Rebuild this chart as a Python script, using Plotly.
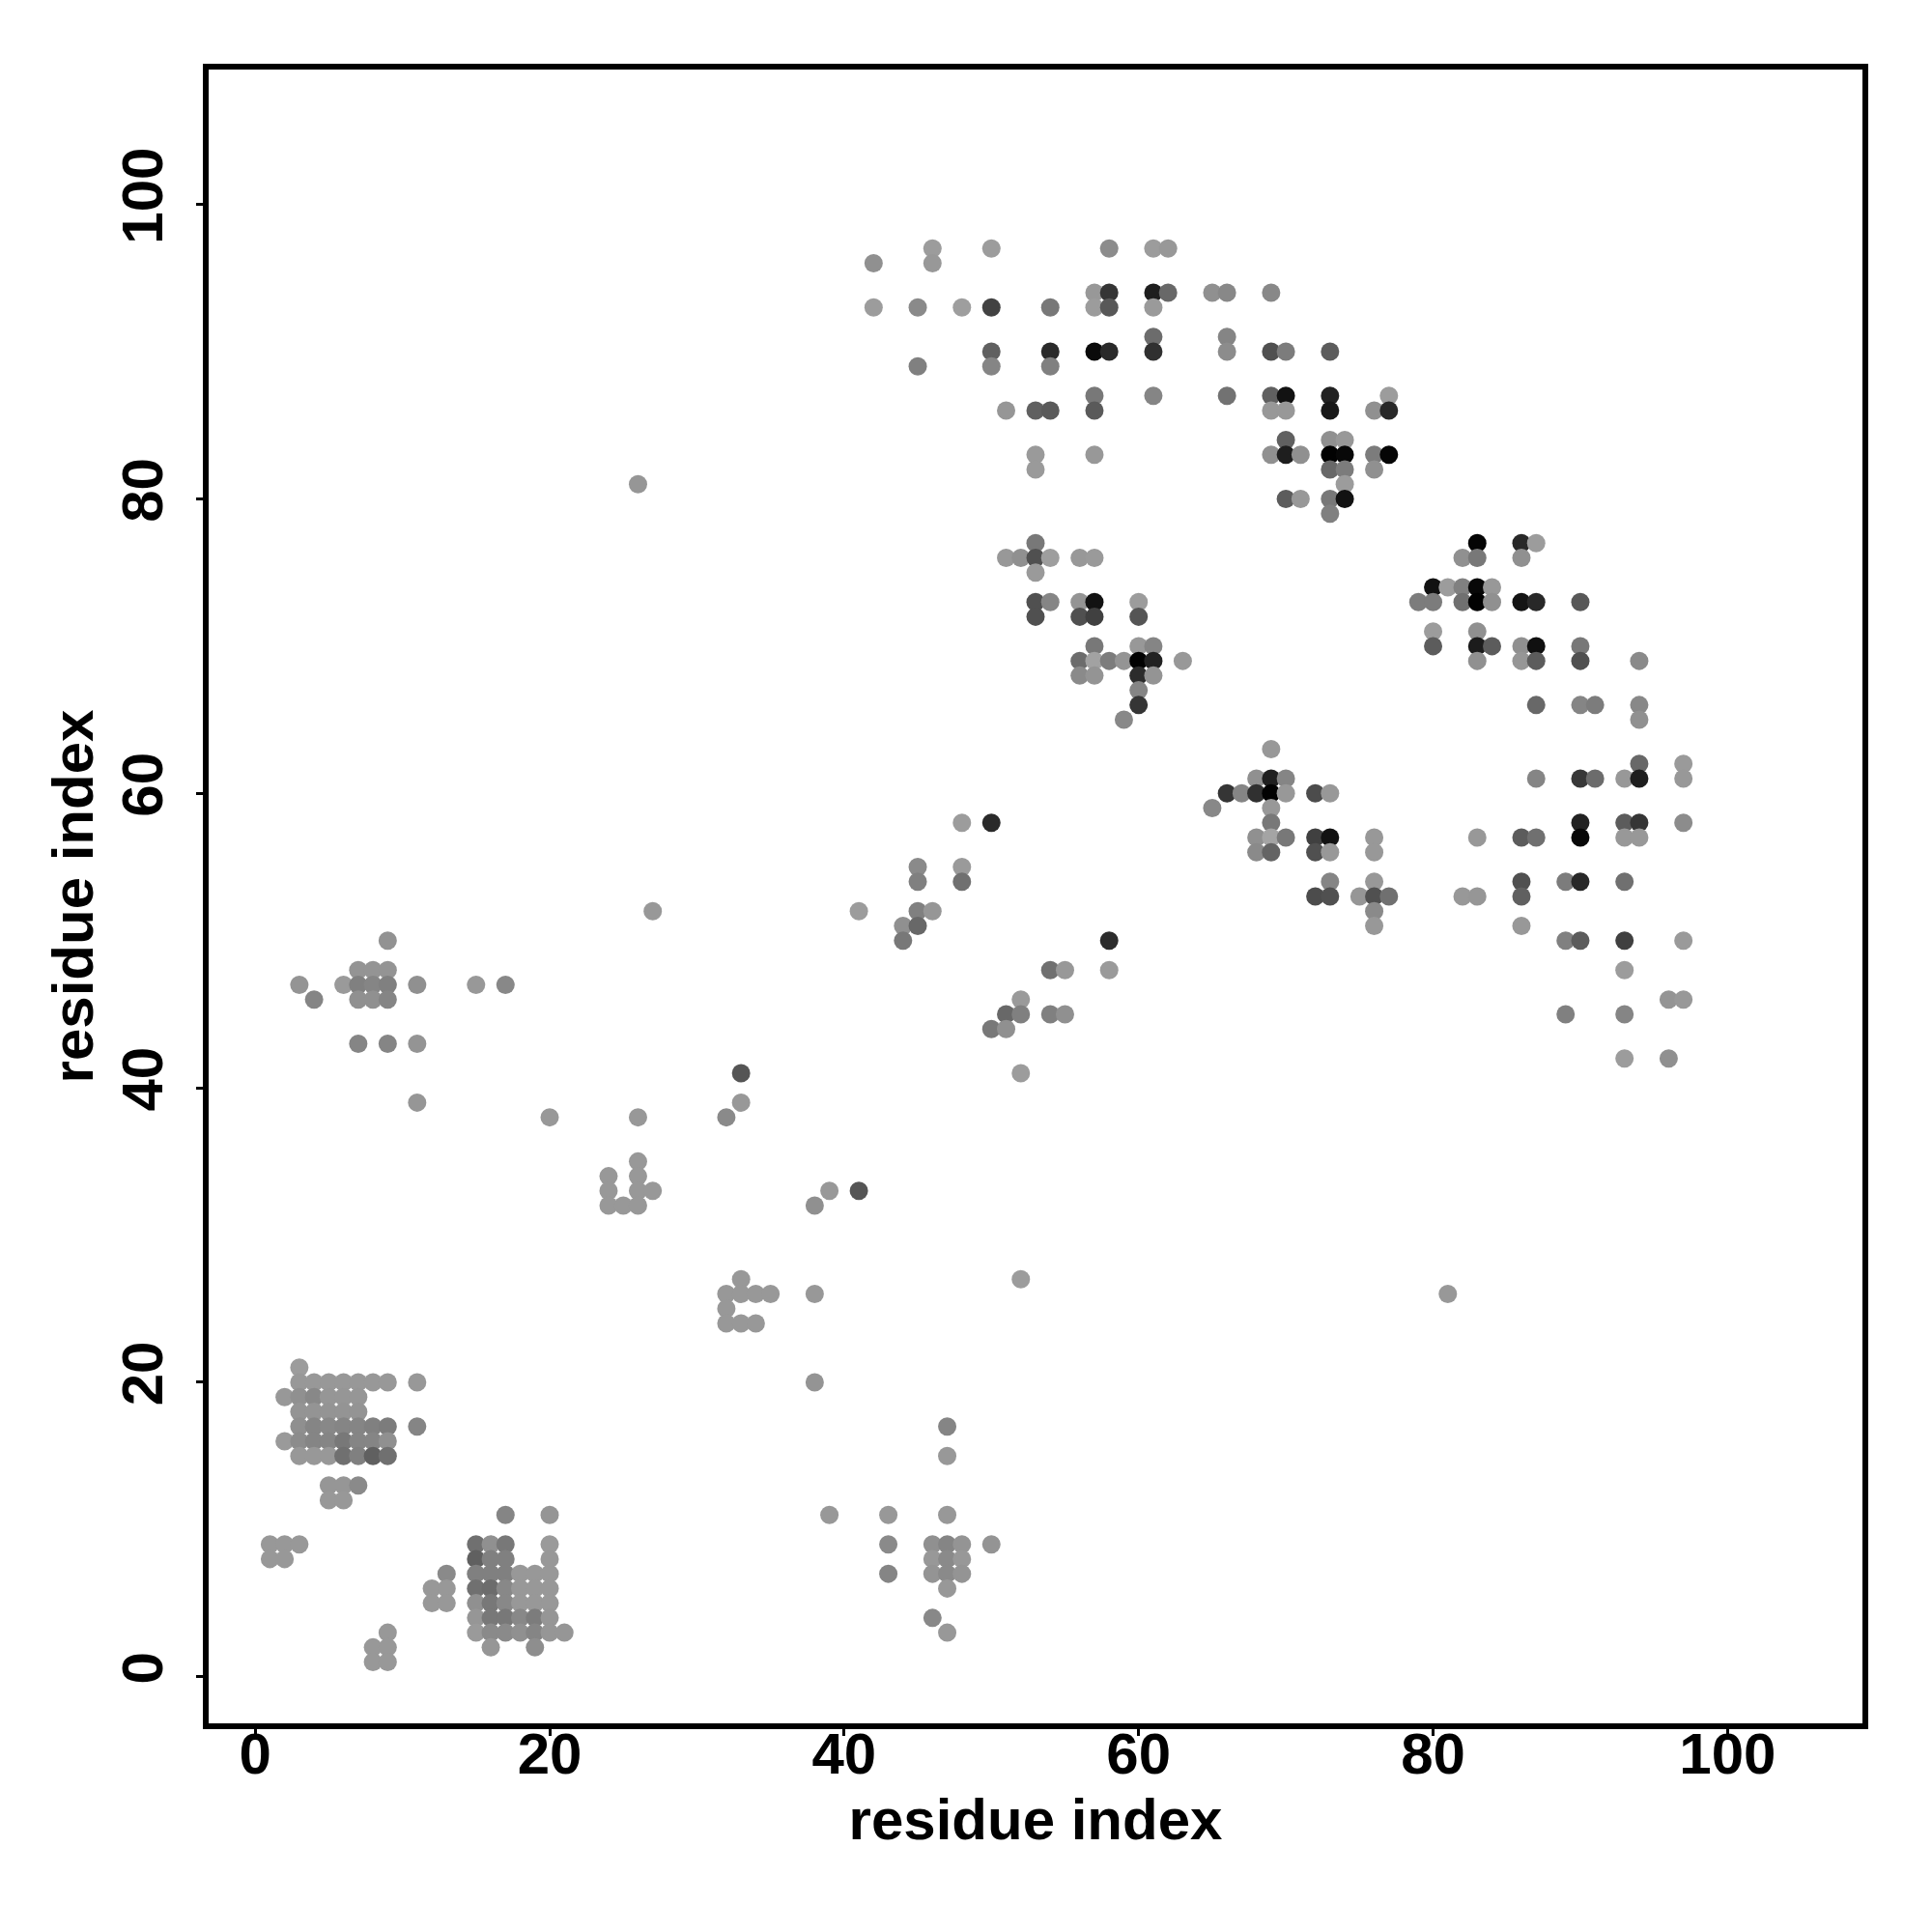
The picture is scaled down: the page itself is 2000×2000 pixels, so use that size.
import plotly.graph_objects as go

row_index = [97, 96, 94, 93, 91, 90, 89, 87, 86, 84, 83, 82, 81, 80, 79, 77, 76, 75, 74, 73,
             72, 71, 70, 69, 68, 67, 66, 65, 63, 62, 61, 60, 59, 58, 57, 56, 55, 54, 53, 52,
             51, 50, 48, 47, 46, 45, 44, 43, 42, 41, 39, 38, 35, 34, 33, 32, 27, 26, 25, 24,
             21, 20, 19, 18, 17, 16, 15, 13, 12, 11, 9, 8, 7, 6, 5, 4, 3, 2, 1]

row_columns = [
    [46, 50, 58, 61, 62],
    [42, 46],
    [57, 58, 61, 62, 65, 66, 69],
    [42, 45, 48, 50, 54, 57, 58, 61],
    [61, 66],
    [50, 54, 57, 58, 61, 66, 69, 70, 73],
    [45, 50, 54],
    [57, 61, 66, 69, 70, 73, 77],
    [51, 53, 54, 57, 69, 70, 73, 76, 77],
    [70, 73, 74],
    [53, 57, 69, 70, 71, 73, 74, 76, 77],
    [53, 73, 74, 76],
    [26, 74],
    [70, 71, 73, 74],
    [73],
    [53, 83, 86, 87],
    [51, 52, 53, 54, 56, 57, 82, 83, 86],
    [53],
    [80, 81, 82, 83, 84],
    [53, 54, 56, 57, 60, 79, 80, 82, 83, 84, 86, 87, 90],
    [53, 56, 57, 60],
    [80, 83],
    [57, 60, 61, 80, 83, 84, 86, 87, 90],
    [56, 57, 58, 59, 60, 61, 63, 83, 86, 87, 90, 94],
    [56, 57, 60, 61],
    [60],
    [60, 87, 90, 91, 94],
    [59, 94],
    [69],
    [94, 97],
    [68, 69, 70, 87, 90, 91, 93, 94, 97],
    [66, 67, 68, 69, 70, 72, 73],
    [65, 69],
    [48, 50, 69, 90, 93, 94, 97],
    [68, 69, 70, 72, 73, 76, 83, 86, 87, 90, 93, 94],
    [68, 69, 72, 73, 76],
    [45, 48],
    [45, 48, 73, 76, 86, 89, 90, 93],
    [72, 73, 75, 76, 77, 82, 83, 86],
    [27, 41, 45, 46, 76],
    [44, 45, 76, 86],
    [9, 44, 58, 89, 90, 93, 97],
    [7, 8, 9, 54, 55, 58, 93],
    [3, 6, 7, 8, 9, 11, 15, 17],
    [4, 7, 8, 9, 52, 96, 97],
    [51, 52, 54, 55, 89, 93],
    [50, 51],
    [7, 9, 11],
    [93, 96],
    [33, 52],
    [11, 33],
    [20, 26, 32],
    [26],
    [24, 26],
    [24, 26, 27, 39, 41],
    [24, 25, 26, 38],
    [33, 52],
    [32, 33, 34, 35, 38, 81],
    [32],
    [32, 33, 34],
    [3],
    [3, 4, 5, 6, 7, 8, 9, 11, 38],
    [2, 3, 4, 5, 6, 7],
    [3, 4, 5, 6, 7],
    [3, 4, 5, 6, 7, 8, 9, 11, 47],
    [2, 3, 4, 5, 6, 7, 8, 9],
    [3, 4, 5, 6, 7, 8, 9, 47],
    [5, 6, 7],
    [5, 6],
    [17, 20, 39, 43, 47],
    [1, 2, 3, 15, 16, 17, 20, 43, 46, 47, 48, 50],
    [1, 2, 15, 16, 17, 20, 46, 47, 48],
    [13, 15, 16, 17, 18, 19, 20, 43, 46, 47, 48],
    [12, 13, 15, 16, 17, 18, 19, 20, 47],
    [12, 13, 15, 16, 17, 18, 19, 20],
    [15, 16, 17, 18, 19, 20, 46],
    [9, 15, 16, 17, 18, 19, 20, 21, 47],
    [8, 9, 16, 19],
    [8, 9],
]

# grey level of each contact, 0 = black, 255 = white
row_levels = [
    [0x9c, 0x9c, 0x8c, 0x9c, 0x98],
    [0x90, 0x98],
    [0x98, 0x35, 0x1e, 0x68, 0x90, 0x88, 0x88],
    [0x9c, 0x8a, 0x9e, 0x42, 0x78, 0x9c, 0x58, 0x9a],
    [0x6c, 0x85],
    [0x60, 0x2a, 0x0a, 0x2a, 0x30, 0x8c, 0x50, 0x7c, 0x5c],
    [0x80, 0x85, 0x80],
    [0x78, 0x85, 0x72, 0x60, 0x12, 0x22, 0x9c],
    [0x96, 0x60, 0x5a, 0x5a, 0x98, 0x98, 0x18, 0x90, 0x28],
    [0x60, 0x90, 0x98],
    [0x9a, 0x98, 0x90, 0x1e, 0x90, 0x02, 0x08, 0x7c, 0x05],
    [0x9a, 0x68, 0x7c, 0x90],
    [0x96, 0x9c],
    [0x5c, 0x98, 0x78, 0x12],
    [0x80],
    [0x78, 0x05, 0x28, 0x9c],
    [0x98, 0x90, 0x50, 0x9e, 0x98, 0x9a, 0x90, 0x78, 0x90],
    [0x9a],
    [0x12, 0x9c, 0x80, 0x08, 0x98],
    [0x50, 0x85, 0x94, 0x12, 0x9c, 0x7c, 0x7c, 0x70, 0x02, 0x90, 0x14, 0x28, 0x58],
    [0x50, 0x50, 0x40, 0x55],
    [0x9c, 0x90],
    [0x78, 0x98, 0x85, 0x5c, 0x1c, 0x5c, 0x90, 0x10, 0x78],
    [0x6c, 0xa2, 0x7c, 0x94, 0x02, 0x22, 0x98, 0x90, 0x96, 0x5c, 0x50, 0x8a],
    [0x8a, 0x94, 0x2c, 0x94],
    [0x85],
    [0x35, 0x68, 0x85, 0x7c, 0x88],
    [0x88, 0x90],
    [0x98],
    [0x68, 0x9a],
    [0x90, 0x20, 0x85, 0x85, 0x38, 0x6c, 0x98, 0x1e, 0x98],
    [0x35, 0x85, 0x30, 0x02, 0x98, 0x4c, 0x98],
    [0x88, 0x98],
    [0x9c, 0x2a, 0x78, 0x22, 0x5c, 0x35, 0x8c],
    [0x90, 0xa4, 0x78, 0x40, 0x12, 0x98, 0x98, 0x5c, 0x70, 0x08, 0x98, 0x98],
    [0x8a, 0x64, 0x50, 0x98, 0x98],
    [0x8a, 0x9a],
    [0x80, 0x70, 0x85, 0x98, 0x50, 0x7c, 0x28, 0x70],
    [0x4c, 0x50, 0x96, 0x50, 0x70, 0x98, 0x96, 0x60],
    [0x98, 0x9c, 0x80, 0x96, 0x8a],
    [0x90, 0x68, 0x98, 0x98],
    [0x92, 0x78, 0x2c, 0x80, 0x5c, 0x40, 0x9a],
    [0x94, 0x94, 0x94, 0x70, 0x98, 0x9a, 0x9c],
    [0x94, 0x9a, 0x80, 0x85, 0x80, 0x90, 0x98, 0x88],
    [0x85, 0x90, 0x90, 0x85, 0x9a, 0x94, 0x98],
    [0x68, 0x80, 0x80, 0x90, 0x80, 0x85],
    [0x78, 0x90],
    [0x85, 0x85, 0x94],
    [0x9c, 0x90],
    [0x55, 0x9c],
    [0x96, 0x98],
    [0x98, 0x98, 0x8a],
    [0x98],
    [0x98, 0x98],
    [0x98, 0x98, 0x98, 0x98, 0x55],
    [0x98, 0x98, 0x98, 0x90],
    [0x98, 0x9c],
    [0x98, 0x98, 0x98, 0x98, 0x98, 0x98],
    [0x98],
    [0x98, 0x98, 0x98],
    [0x9c],
    [0x98, 0x98, 0x98, 0x98, 0x98, 0x98, 0x98, 0x98, 0x94],
    [0x98, 0x90, 0x88, 0x96, 0x96, 0x96],
    [0x94, 0x94, 0x94, 0x94, 0x94],
    [0x8f, 0x85, 0x88, 0x85, 0x85, 0x80, 0x7c, 0x85, 0x85],
    [0x9a, 0x8c, 0x85, 0x85, 0x78, 0x85, 0x85, 0x90],
    [0x98, 0x98, 0x98, 0x70, 0x80, 0x60, 0x70, 0x98],
    [0x96, 0x96, 0x8a],
    [0x98, 0x98],
    [0x85, 0x95, 0x98, 0x98, 0x98],
    [0x98, 0x98, 0x98, 0x70, 0x90, 0x78, 0x9a, 0x8a, 0x90, 0x85, 0x94, 0x94],
    [0x98, 0x98, 0x60, 0x80, 0x80, 0x98, 0x98, 0x8a, 0x98],
    [0x8a, 0x80, 0x80, 0x80, 0x98, 0x98, 0x98, 0x85, 0x94, 0x8a, 0x94],
    [0x98, 0x98, 0x70, 0x6c, 0x88, 0x98, 0x98, 0x98, 0x98],
    [0x98, 0x98, 0x90, 0x78, 0x88, 0x98, 0x98, 0x98],
    [0x96, 0x78, 0x78, 0x88, 0x7c, 0x96, 0x88],
    [0x98, 0x9a, 0x8a, 0x8a, 0x90, 0x85, 0x96, 0x96, 0x98],
    [0x98, 0x98, 0x96, 0x8e],
    [0x98, 0x98],
]

tick_values = [0, 20, 40, 60, 80, 100]
axis_title = "residue index"

xs, ys, levels = [], [], []
for y, cols, lvls in zip(row_index, row_columns, row_levels, strict=True):
    for x, lvl in zip(cols, lvls, strict=True):
        xs.append(x)
        ys.append(y)
        levels.append(lvl)

fig = go.Figure(go.Scatter(
    x=xs, y=ys, mode="markers",
    marker=dict(
        size=19, color=levels, cmin=0, cmax=255,
        colorscale=[[0, "#000000"], [1, "#ffffff"]],
        showscale=False, line=dict(width=0),
    ),
))

FONT = dict(family="Liberation Sans", size=60, color="black", weight=700)
axis = dict(
    range=[-3.16, 109.16], tickmode="array", tickvals=tick_values,
    showgrid=False, zeroline=False, showline=True, mirror=True,
    linecolor="black", linewidth=5.5,
    ticks="outside", ticklen=7, tickwidth=3, tickcolor="black",
    tickfont=FONT, automargin=False,
)
fig.update_xaxes(**axis, ticklabelstandoff=-33,
                 title=dict(text=axis_title, font=FONT, standoff=16))
fig.update_yaxes(**axis, tickangle=-90, ticklabelstandoff=11,
                 title=dict(text=axis_title, font=FONT, standoff=0))
# the page body adds an 8 px margin around the figure
fig.update_layout(
    width=1984, height=1984, autosize=False,
    margin=dict(l=208, r=64, t=64, b=208, pad=0),
    paper_bgcolor="white", plot_bgcolor="white", showlegend=False,
)
fig.write_html("out.html")
